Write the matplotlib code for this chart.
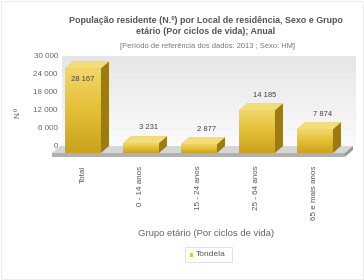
import numpy as np
import matplotlib
matplotlib.use("Agg")
import matplotlib.pyplot as plt
from matplotlib.patches import Rectangle, Polygon
from matplotlib.colors import LinearSegmentedColormap

categories = ["Total", "0 - 14 anos", "15 - 24 anos", "25 - 64 anos", "65 e mais anos"]
values = [28167, 3231, 2877, 14185, 7874]
yticks = [0, 6000, 12000, 18000, 24000, 30000]
series_name = "Tondela"
title = "População residente (N.º) por Local de residência, Sexo e Grupo\netário (Por ciclos de vida); Anual"
subtitle = "[Período de referência dos dados: 2013 ; Sexo: HM]"
xlabel = "Grupo etário (Por ciclos de vida)"
ylabel = "N.º"

def fmt(v):
    return f"{v:,}".replace(",", " ")

plt.rcParams['font.family'] = ['Liberation Sans', 'DejaVu Sans']

W, H = 364, 280
fig = plt.figure(figsize=(W/100, H/100), dpi=100)
fig.patch.set_facecolor("white")

fig.patches.append(Rectangle((0.002, 0.002), 0.996, 0.996, transform=fig.transFigure,
                             fill=False, edgecolor="#ececec", lw=0.8))

ax = fig.add_axes([62/W, (H-146)/H, 293/W, 90/H])
x0, x1 = -0.362, 4.69
ax.set_xlim(x0, x1)
ax.set_ylim(0, 30000)

grad = np.linspace(0, 1, 100).reshape(-1, 1)
wall_cmap = LinearSegmentedColormap.from_list("wall", ["#fbfbfb", "#e6e6e6"])
ax.imshow(grad, extent=(x0, x1, 0, 30000), aspect="auto", cmap=wall_cmap,
          origin="lower", zorder=0)
for t in yticks[1:-1]:
    ax.axhline(t, color="#f3f3f3", lw=0.6, zorder=0.5)
ax.axvline(x1, color="#cccccc", lw=0.8, zorder=0.6)

for s in ax.spines.values():
    s.set_visible(False)

w = 0.62
dx = 0.138
dy = 2333
thick = 1300

fl, fr = -0.534, 4.517
ax.add_patch(Polygon([(fl + dx, 0), (fr + dx, 0), (fr, -dy), (fl, -dy)], closed=True,
                     facecolor="#d6d6d6", edgecolor="none", clip_on=False, zorder=1))
ax.add_patch(Rectangle((fl, -dy - thick), fr - fl, thick, facecolor="#b0b0b0",
                       edgecolor="none", clip_on=False, zorder=1))
ax.add_patch(Polygon([(fr, -dy), (fr + dx, 0), (fr + dx, -thick), (fr, -dy - thick)],
                     closed=True, facecolor="#959595", edgecolor="none", clip_on=False, zorder=1))

bar_cmap = LinearSegmentedColormap.from_list("bar", ["#caa21e", "#e4bf36", "#f1d669"])
for i, v in enumerate(values):
    front = Rectangle((i - w/2, -dy), w, v, facecolor="none", edgecolor="none",
                      clip_on=False, zorder=2)
    ax.add_patch(front)
    im = ax.imshow(grad, extent=(i - w/2, i + w/2, -dy, v - dy), aspect="auto",
                   cmap=bar_cmap, origin="lower", zorder=2)
    im.set_clip_path(front)
    ax.add_patch(Polygon([(i - w/2, v - dy), (i + w/2, v - dy), (i + w/2 + dx, v),
                          (i - w/2 + dx, v)], closed=True, facecolor="#f3dc7a",
                         edgecolor="#e8cc5a", lw=0.3, clip_on=False, zorder=3))
    ax.add_patch(Polygon([(i + w/2, -dy), (i + w/2 + dx, 0), (i + w/2 + dx, v),
                          (i + w/2, v - dy)], closed=True, facecolor="#9c7b12",
                         edgecolor="none", clip_on=False, zorder=3))
    if v > 25000:
        ax.annotate(fmt(v), (i, v - dy), xytext=(0, -8), textcoords="offset points",
                    ha="center", va="center", fontsize=5.5, color="#444444", zorder=5)
    else:
        ax.annotate(fmt(v), (i + dx, v), xytext=(0, 6), textcoords="offset points",
                    ha="center", va="center", fontsize=5.5, color="#444444", zorder=5)

ax.set_yticks(yticks)
ax.set_yticklabels([fmt(t) for t in yticks], fontsize=5.8, color="#666666")
ax.set_xticks(range(len(categories)))
ax.set_xticklabels(categories, rotation=90, fontsize=5.8, color="#555555", va="top")
ax.tick_params(axis="both", length=0)
ax.tick_params(axis="x", pad=14)
ax.tick_params(axis="y", pad=3)

fig.text(18/W, 1 - 112/H, ylabel, rotation=90, ha="center", va="center",
         fontsize=5.8, color="#555555")
fig.text(206/W, 1 - 26/H, title, ha="center", va="center", fontsize=6.4,
         fontweight="bold", color="#555555", linespacing=1.2)
fig.text(207/W, 1 - 46/H, subtitle, ha="center", va="center", fontsize=5.4,
         color="#777777")
fig.text(206/W, 1 - 233/H, xlabel, ha="center", va="center", fontsize=6.8,
         color="#666666")

fig.patches.append(Rectangle((185/W, 1 - 262/H), 47/W, 15/H, transform=fig.transFigure,
                             facecolor="white", edgecolor="#dddddd", lw=0.6))
fig.patches.append(Rectangle((189.5/W, 1 - 256.5/H), 3.5/W, 3.5/H, transform=fig.transFigure,
                             facecolor="#e8c23a", edgecolor="none"))
fig.text(195.5/W, 1 - 254.5/H, series_name, ha="left", va="center", fontsize=6.0,
         color="#555555")

fig.savefig("out.png", dpi=100)
